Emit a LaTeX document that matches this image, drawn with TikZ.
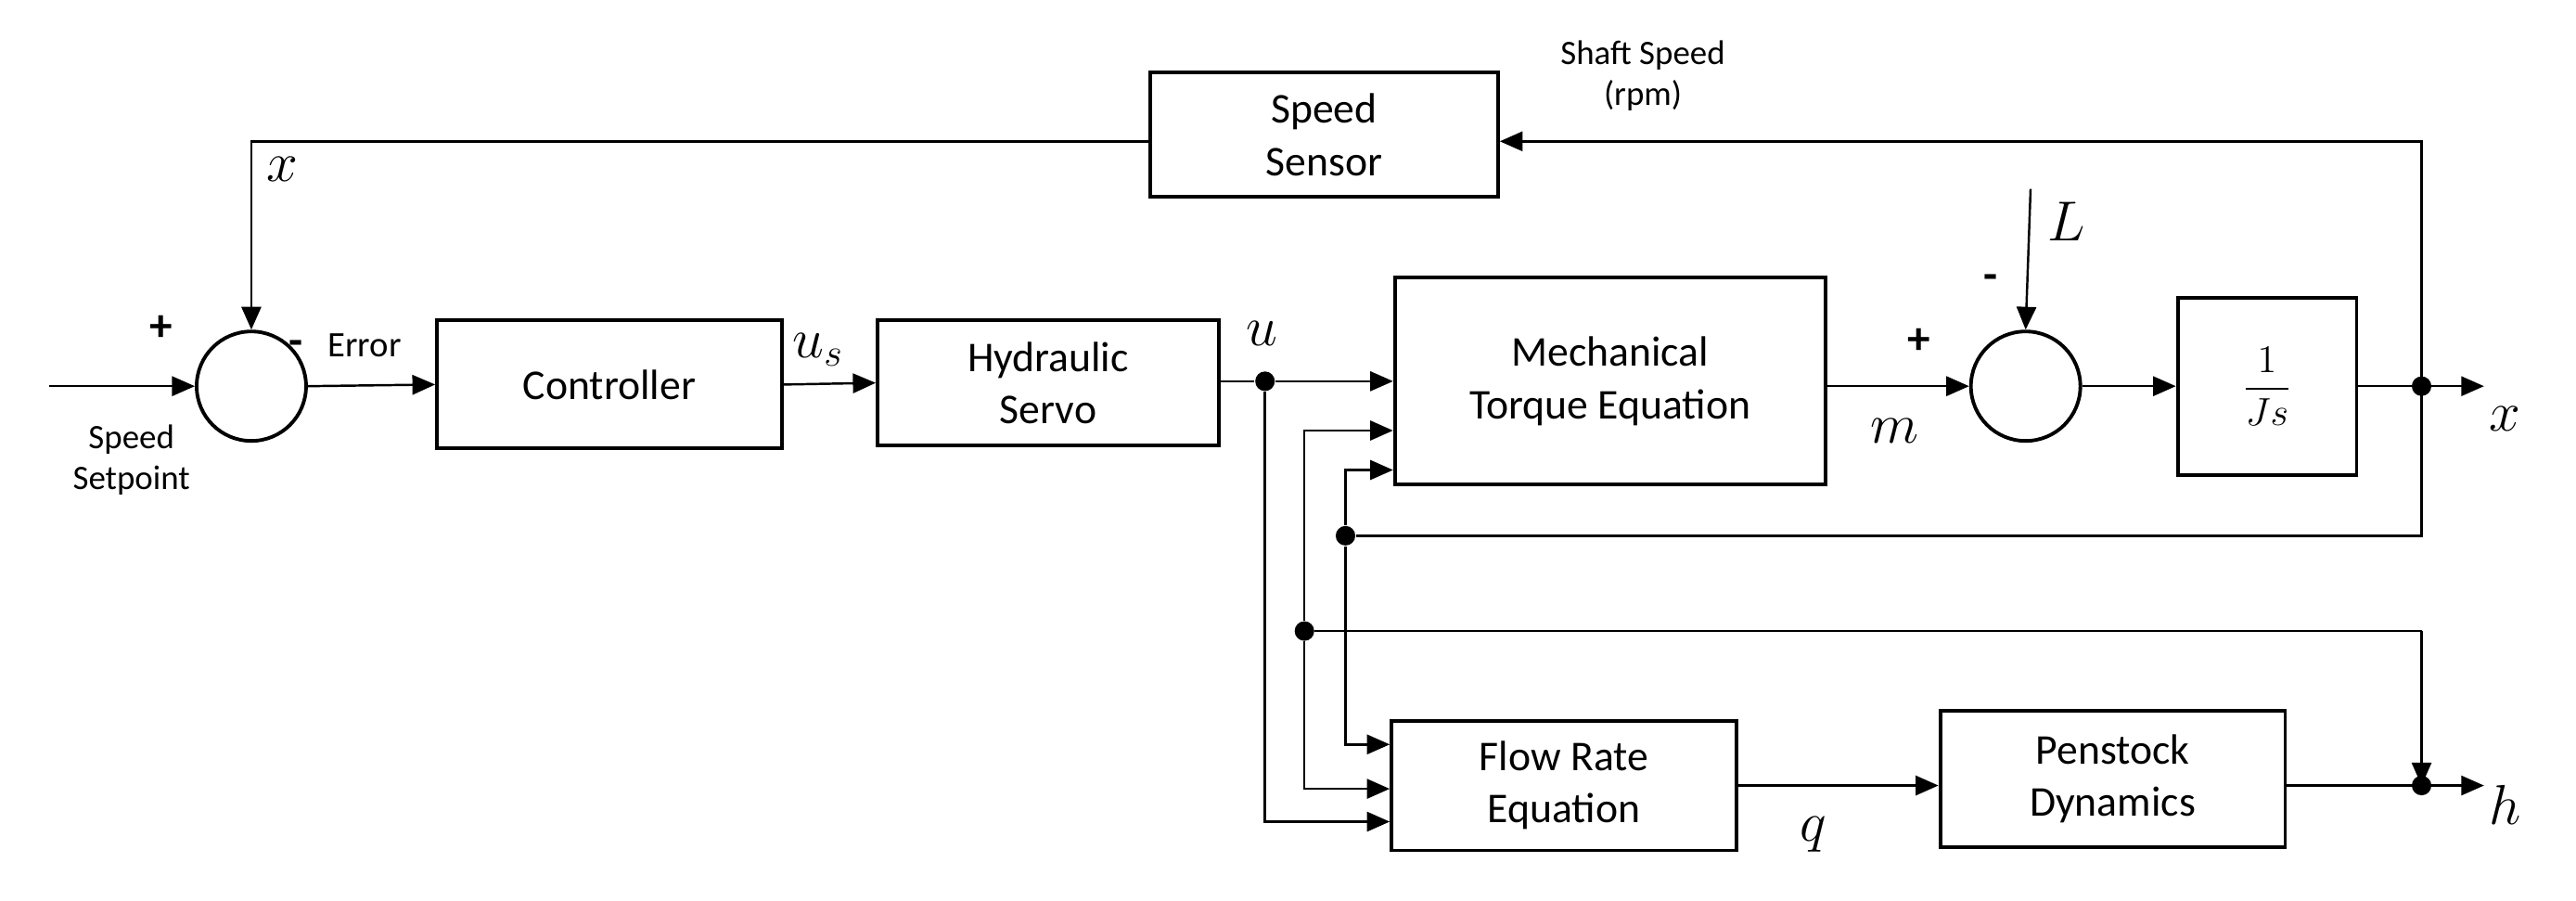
\documentclass[tikz,border=0pt]{standalone}
\usepackage{fontspec}
\setmainfont{Carlito}
\usetikzlibrary{arrows.meta}
\begin{document}
\begin{tikzpicture}[x=0.01771cm,y=-0.01771cm,
  blk/.style={draw,line width=1.1pt,inner sep=0pt,align=center,font=\fontsize{13}{16}\selectfont},
  sum/.style={draw,line width=1.1pt,circle,minimum size=1.18cm,inner sep=0pt},
  ln/.style={line width=0.7pt},
  ar/.style={line width=0.7pt,-{Triangle[length=7pt,width=6pt]}},
  dot/.style={circle,fill,inner sep=0pt,minimum size=6pt},
  sm/.style={font=\fontsize{10.5}{12.5}\selectfont,align=center},
  ml/.style={font=\fontsize{17}{17}\selectfont},
  pm/.style={font=\fontsize{14}{14}\selectfont\bfseries}]
\useasboundingbox (0,0) rectangle (1568,548);
% blocks
\node[blk,minimum width=3.75cm,minimum height=1.34cm] (sens) at (806,82) {Speed\\Sensor};
\node[sum] (s1) at (153,235) {};
\node[blk,minimum width=3.72cm,minimum height=1.38cm] (ctrl) at (371,234) {Controller};
\node[blk,minimum width=3.68cm,minimum height=1.35cm] (hyd) at (638,233) {Hydraulic\\Servo};
\node[blk,minimum width=4.64cm,minimum height=2.23cm] (mech) at (980,232) {Mechanical\\Torque Equation};
\node[sum] (s2) at (1233,235) {};
\node[blk,minimum width=1.93cm,minimum height=1.91cm] (js) at (1380,235) {$\displaystyle\frac{1}{Js}$};
\node[blk,minimum width=3.72cm,minimum height=1.40cm] (flow) at (952,478) {Flow Rate\\Equation};
\node[blk,minimum width=3.72cm,minimum height=1.47cm] (pen) at (1286,474) {Penstock\\Dynamics};
% coordinates
\coordinate (in) at (30,235);
\coordinate (jx) at (1474,235);
\coordinate (ox) at (1512,235);
\coordinate (jh) at (1474,478);
\coordinate (oh) at (1512,478);
\node[dot] (du) at (770,232) {};
\node[dot] (dA) at (819,326) {};
\node[dot] (dB) at (794,384) {};
\node[dot] at (jx) {};
\node[dot] at (jh) {};
\coordinate (Ltop) at (1236,115);
% connectors
\draw[ar] (in) -- (s1.west);
\draw[ar] (s1.east) -- (ctrl.west);
\draw[ar] (ctrl.east) -- (hyd.west);
\draw[ln] (hyd.east |- du) -- (du);
\draw[ar] (du) -- (mech.west |- du);
\draw[ar] (mech.east |- s2) -- (s2.west);
\draw[ar] (s2.east) -- (js.west);
\draw[ln] (js.east) -- (jx);
\draw[ar] (jx) -- (ox);
\draw[ar] (Ltop) -- (s2.north);
\draw[ar] (jx) |- (1474,86) -- (sens.east |- 0,86);
\draw[ar] (sens.west |- 0,86) -| (s1.north);
\draw[ln] (jx) |- (dA);
\draw[ar] (dA) |- (mech.west |- 0,286);
\draw[ar] (dA) |- (flow.west |- 0,453);
\draw[ar] (1474,384) -- (jh);
\draw[ln] (dB) -- (1474,384);
\draw[ar] (dB) |- (mech.west |- 0,262);
\draw[ar] (dB) |- (flow.west |- 0,480);
\draw[ar] (du) |- (flow.west |- 0,500);
\draw[ar] (flow.east |- 0,478) -- (pen.west |- 0,478);
\draw[ln] (pen.east |- jh) -- (jh);
\draw[ar] (jh) -- (oh);
% labels
\node[sm] at (1000,46) {Shaft Speed\\(rpm)};
\node[sm] at (80,280) {Speed\\Setpoint};
\node[sm,font=\fontsize{11}{13}\selectfont] at (222,210) {Error};
\node[pm] at (98,200) {+};
\node[pm] at (180,212) {-};
\node[pm] at (1168,208) {+};
\node[pm] at (1212,172) {-};
\node[ml] at (172,103) {$x$};
\node[ml] at (498,213) {$u_s$};
\node[ml] at (768,203) {$u$};
\node[ml] at (1258,135) {$L$};
\node[ml] at (1153,262) {$m$};
\node[ml] at (1525,255) {$x$};
\node[ml] at (1104,508) {$q$};
\node[ml] at (1525,490) {$h$};
\end{tikzpicture}
\end{document}
